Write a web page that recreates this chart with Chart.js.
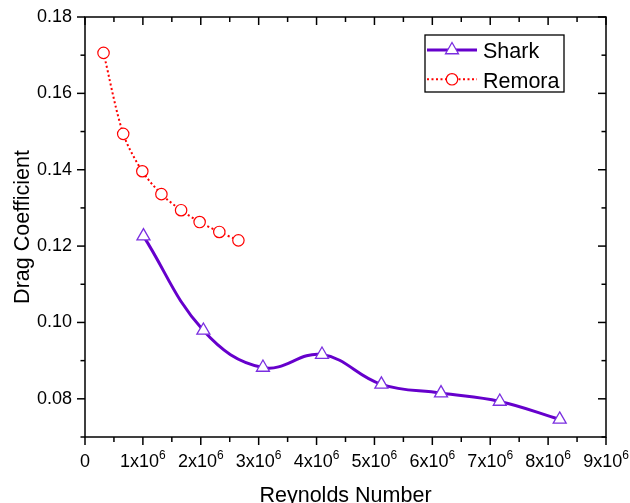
<!DOCTYPE html>
<html>
<head>
<meta charset="utf-8">
<script src="https://cdn.jsdelivr.net/npm/chart.js@4/dist/chart.umd.min.js"></script>
<style>
  html, body { margin: 0; padding: 0; background: #fff; }
  canvas { display: block; }
</style>
</head>
<body>
<canvas id="dragChart" width="630" height="503"></canvas>
<script>
// Reynolds number vs drag coefficient
const sharkRe = [1.01e6, 2.045e6, 3.074e6, 4.094e6, 5.12e6, 6.15e6, 7.165e6, 8.2e6];
const sharkCd = [0.1226, 0.0979, 0.0882, 0.0916, 0.0838, 0.0815, 0.0793, 0.0746];

const remoraRe = [0.32e6, 0.66e6, 0.99e6, 1.32e6, 1.66e6, 1.98e6, 2.32e6, 2.65e6];
const remoraCd = [0.1706, 0.1494, 0.1396, 0.1336, 0.1294, 0.1263, 0.1237, 0.1215];

const xTicks = [0, 1e6, 2e6, 3e6, 4e6, 5e6, 6e6, 7e6, 8e6, 9e6];
const yTicks = [0.08, 0.10, 0.12, 0.14, 0.16, 0.18];

const FONT = "'Liberation Sans', Arial, sans-serif";
const SHARK_COLOR = "#6600cc";
const REMORA_COLOR = "#ff0000";

const toPoints = (xs, ys) => xs.map((x, i) => ({ x: x, y: ys[i] }));

// === Frame, ticks, labels and axis titles ===
const frame = {
  id: "frame",
  afterDraw(chart) {
    const { ctx, chartArea: a, scales } = chart;
    const xs = scales.x, ys = scales.y;
    ctx.save();
    ctx.strokeStyle = "#000";
    ctx.fillStyle = "#000";
    ctx.lineWidth = 1.5;
    ctx.strokeRect(a.left, a.top, a.right - a.left, a.bottom - a.top);

    const line = (x1, y1, x2, y2) => {
      ctx.beginPath();
      ctx.moveTo(x1, y1);
      ctx.lineTo(x2, y2);
      ctx.stroke();
    };

    // x ticks: out at the bottom, in at the top
    const xStep = xTicks[1] - xTicks[0];
    xTicks.forEach((v, i) => {
      const px = xs.getPixelForValue(v);
      line(px, a.bottom, px, a.bottom + 8);
      line(px, a.top, px, a.top + 8);
      if (i < xTicks.length - 1) {
        const mx = xs.getPixelForValue(v + xStep / 2);
        line(mx, a.bottom, mx, a.bottom + 5);
        line(mx, a.top, mx, a.top + 5);
      }
    });

    // y ticks: out on the left, in on the right
    const yStep = yTicks[1] - yTicks[0];
    const yMinor = [yTicks[0] - yStep / 2].concat(yTicks.slice(0, -1).map(v => v + yStep / 2));
    yTicks.forEach(v => {
      const py = ys.getPixelForValue(v);
      line(a.left - 8, py, a.left, py);
      line(a.right - 8, py, a.right, py);
    });
    yMinor.forEach(v => {
      const py = ys.getPixelForValue(v);
      line(a.left - 4.5, py, a.left, py);
      line(a.right - 4.5, py, a.right, py);
    });

    // y tick labels
    ctx.font = "18px " + FONT;
    ctx.textAlign = "right";
    ctx.textBaseline = "middle";
    yTicks.forEach(v => {
      ctx.fillText(v.toFixed(2), a.left - 13, ys.getPixelForValue(v));
    });

    // x tick labels with superscript exponent
    ctx.textAlign = "left";
    ctx.textBaseline = "alphabetic";
    const base = a.bottom + 30;
    xTicks.forEach(v => {
      const px = xs.getPixelForValue(v);
      if (v === 0) {
        ctx.font = "18px " + FONT;
        const w = ctx.measureText("0").width;
        ctx.fillText("0", px - w / 2, base);
        return;
      }
      const mant = String(Math.round(v / 1e6)) + "x10";
      ctx.font = "18px " + FONT;
      const w1 = ctx.measureText(mant).width;
      ctx.font = "12px " + FONT;
      const w2 = ctx.measureText("6").width;
      const x0 = px - (w1 + w2) / 2;
      ctx.font = "18px " + FONT;
      ctx.fillText(mant, x0, base);
      ctx.font = "12px " + FONT;
      ctx.fillText("6", x0 + w1, base - 8);
    });

    // axis titles
    ctx.font = "21.5px " + FONT;
    ctx.textAlign = "center";
    ctx.fillText("Reynolds Number", (a.left + a.right) / 2, 502);
    ctx.save();
    ctx.translate(28.5, (a.top + a.bottom) / 2);
    ctx.rotate(-Math.PI / 2);
    ctx.fillText("Drag Coefficient", 0, 0);
    ctx.restore();

    // legend box
    const lx = 425, ly = 35, lw = 139, lh = 57;
    ctx.lineWidth = 1.3;
    ctx.strokeRect(lx, ly, lw, lh);
    const rows = [
      { ds: chart.data.datasets[0], y: 50, ty: 58.3 },
      { ds: chart.data.datasets[1], y: 79.3, ty: 88.3 }
    ];
    rows.forEach(r => {
      ctx.save();
      ctx.strokeStyle = r.ds.borderColor;
      ctx.lineWidth = r.ds.borderWidth;
      ctx.setLineDash(r.ds.borderDash || []);
      line(lx + 2, r.y, lx + 52, r.y);
      ctx.restore();
      ctx.save();
      ctx.strokeStyle = r.ds.pointBorderColor;
      ctx.fillStyle = "#fff";
      ctx.lineWidth = r.ds.pointBorderWidth;
      Chart.helpers.drawPoint(ctx, {
        pointStyle: r.ds.pointStyle,
        radius: r.ds.pointRadius,
        rotation: 0,
        borderWidth: r.ds.pointBorderWidth
      }, lx + 27, r.y);
      ctx.restore();
      ctx.font = "21.5px " + FONT;
      ctx.textAlign = "left";
      ctx.fillText(r.ds.label, lx + 58, r.ty);
    });
    ctx.restore();
  }
};

new Chart(document.getElementById("dragChart").getContext("2d"), {
  type: "line",
  data: {
    datasets: [
      {
        label: "Shark",
        data: toPoints(sharkRe, sharkCd),
        borderColor: SHARK_COLOR,
        borderWidth: 3,
        tension: 0.4,
        pointStyle: "triangle",
        pointRadius: 7.5,
        pointBorderWidth: 1.3,
        pointBorderColor: "#7a2ee0",
        pointBackgroundColor: "#fff"
      },
      {
        label: "Remora",
        data: toPoints(remoraRe, remoraCd),
        borderColor: REMORA_COLOR,
        borderWidth: 2,
        borderDash: [2, 2.5],
        tension: 0.3,
        pointStyle: "circle",
        pointRadius: 5.7,
        pointBorderWidth: 1.2,
        pointBorderColor: REMORA_COLOR,
        pointBackgroundColor: "#fff"
      }
    ]
  },
  options: {
    responsive: false,
    animation: false,
    layout: { padding: { left: 85, top: 17, right: 24, bottom: 66 } },
    plugins: { legend: { display: false }, tooltip: { enabled: false } },
    scales: {
      x: { type: "linear", min: 0, max: 9e6, display: false },
      y: { type: "linear", min: 0.07, max: 0.18, display: false }
    }
  },
  plugins: [frame]
});
</script>
</body>
</html>
